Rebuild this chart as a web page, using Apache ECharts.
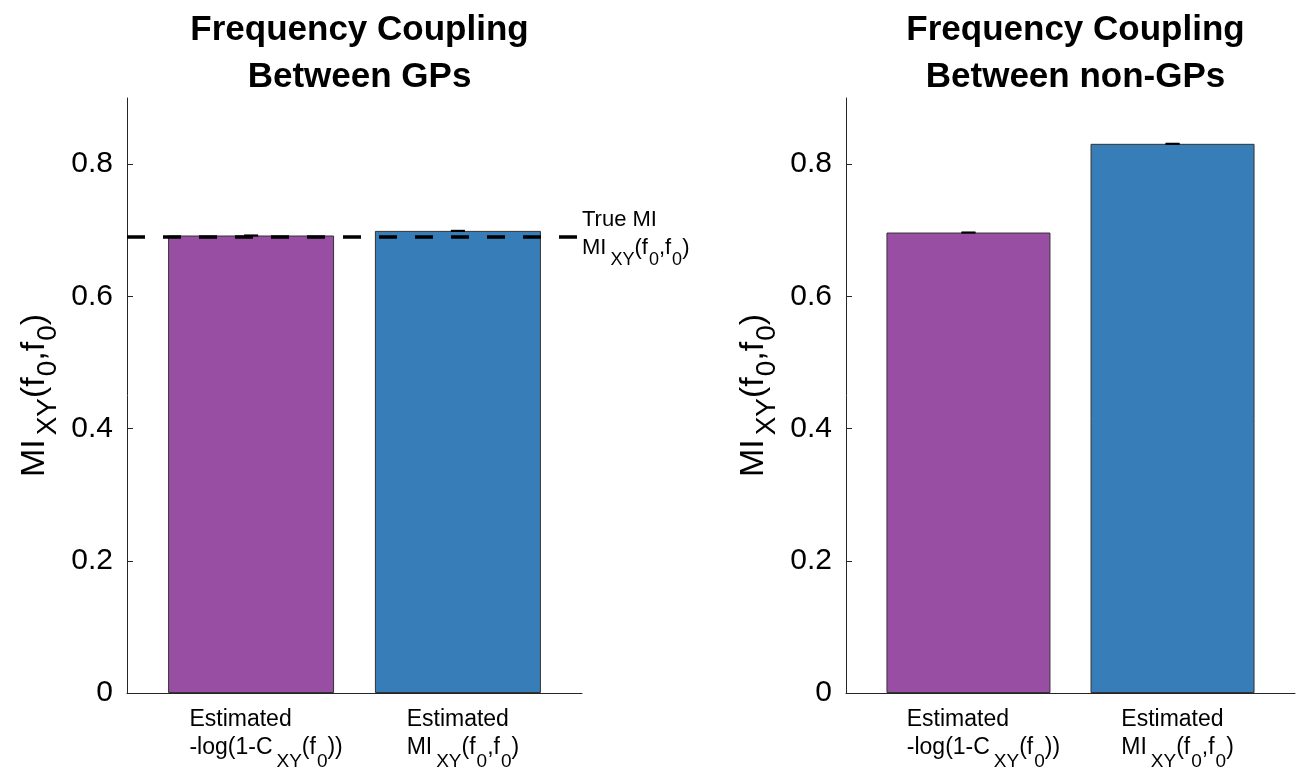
<!DOCTYPE html>
<html>
<head>
<meta charset="utf-8">
<script src="https://cdn.jsdelivr.net/npm/echarts@6/dist/echarts.min.js"></script>
<style>html,body{margin:0;padding:0;background:#fff}#c{width:1304px;height:771px}</style>
</head>
<body>
<div id="c"></div>
<script>
// ---- data ----
const panelTitles = ['Frequency Coupling\nBetween GPs', 'Frequency Coupling\nBetween non-GPs'];
const categoryPositions = [1, 2];
const categoryLabels = [
  '{m|Estimated}\n{m|-log(1-C}{s|XY}{m|(f}{z|0}{m|))}',
  '{m|Estimated}\n{m|MI}{s|XY}{m|(f}{z|0}{m|,f}{z|0}{m|)}'
];
const gpValues = [0.692, 0.699];
const gpErrors = [0.0005, 0.0005];
const nonGpValues = [0.6965, 0.8307];
const nonGpErrors = [0.0005, 0.0005];
const trueMI = 0.6931;
const yTicks = [0, 0.2, 0.4, 0.6, 0.8];
const barColors = ['#984EA3', '#377EB8'];
const yName = '{m|MI}{s|XY}{m|(f}{z|0}{m|,f}{z|0}{m|)}';
const trueMILabel = '{m|True MI}\n{m|MI}{s|XY}{m|(f}{z|0}{m|,f}{z|0}{m|)}';

const FONT = 'Liberation Sans';
const chart = echarts.init(document.getElementById('c'));

const grids = [
  {left: 127, width: 455, top: 98, height: 595},
  {left: 846, width: 449, top: 98, height: 595}
];
// left padding that shifts each category label block (MATLAB-like placement)
const labelPads = [30, 10];

// rich styles: main text, subscript (lowered through top padding)
function richSet(main, sub, drop, lh) {
  return {
    m: {fontSize: main, fontFamily: FONT, color: '#000', lineHeight: lh, align: 'left'},
    s: {fontSize: sub, fontFamily: FONT, color: '#000', lineHeight: 2, align: 'left', padding: [drop, 0, 0, 4]},
    z: {fontSize: sub, fontFamily: FONT, color: '#000', lineHeight: 2, align: 'left', padding: [drop, 0, 0, 1]}
  };
}

function xAxis(i) {
  const rich = richSet(23, 19, 27, 28);
  rich.p0 = {width: labelPads[0], lineHeight: 28, fontSize: 23, align: 'left'};
  rich.p1 = {width: labelPads[1], lineHeight: 28, fontSize: 23, align: 'left'};
  return {
    type: 'value', gridIndex: i, min: 0.4, max: 2.6,
    axisLine: {show: true, lineStyle: {color: '#262626', width: 1}},
    axisTick: {show: false},
    splitLine: {show: false},
    axisLabel: {
      customValues: categoryPositions,
      formatter: v => {
        const k = Math.round(v) - 1;
        return categoryLabels[k].split('\n').map(l => '{p' + k + '| }' + l).join('\n');
      },
      margin: 13,
      rich: rich
    }
  };
}
function yAxis(i) {
  return {
    type: 'value', gridIndex: i, min: 0, max: 0.9,
    axisLine: {show: true, lineStyle: {color: '#262626', width: 1}},
    axisTick: {show: true, inside: true, length: 6, customValues: yTicks, lineStyle: {color: '#262626'}},
    splitLine: {show: false},
    axisLabel: {
      customValues: yTicks,
      formatter: v => (v === 0 ? '0' : v.toFixed(1)),
      fontSize: 30, fontFamily: FONT, color: '#000', margin: 14
    },
    name: yName,
    nameLocation: 'middle',
    nameRotate: 90,
    nameGap: 72,
    nameTextStyle: {rich: richSet(34, 28, 26, 40)}
  };
}

function barData(vals) {
  return vals.map((v, k) => ({value: [categoryPositions[k], v], itemStyle: {color: barColors[k]}}));
}
function errData(vals, errs) {
  return vals.map((v, k) => [categoryPositions[k], v - errs[k], v + errs[k]]);
}
function errSeries(i, vals, errs) {
  return {
    type: 'custom', xAxisIndex: i, yAxisIndex: i, z: 5,
    data: errData(vals, errs),
    renderItem: (params, api) => {
      const x = api.value(0);
      const lo = api.coord([x, api.value(1)]);
      const hi = api.coord([x, api.value(2)]);
      const hw = 7;
      const st = {stroke: '#000', lineWidth: 1.5};
      return {type: 'group', children: [
        {type: 'line', shape: {x1: lo[0], y1: lo[1], x2: hi[0], y2: hi[1]}, style: st},
        {type: 'line', shape: {x1: lo[0] - hw, y1: lo[1], x2: lo[0] + hw, y2: lo[1]}, style: st},
        {type: 'line', shape: {x1: hi[0] - hw, y1: hi[1], x2: hi[0] + hw, y2: hi[1]}, style: st}
      ]};
    }
  };
}

const option = {
  animation: false,
  backgroundColor: '#fff',
  title: panelTitles.map((t, i) => ({
    text: t,
    left: grids[i].left + grids[i].width / 2,
    textAlign: 'center',
    top: 2,
    textStyle: {fontSize: 35, fontWeight: 'bold', fontFamily: FONT, color: '#000', lineHeight: 47}
  })),
  grid: grids,
  xAxis: [xAxis(0), xAxis(1)],
  yAxis: [yAxis(0), yAxis(1)],
  series: [
    {
      type: 'bar', xAxisIndex: 0, yAxisIndex: 0, barWidth: 166,
      data: barData(gpValues),
      itemStyle: {borderColor: '#333', borderWidth: 1},
      markLine: {
        silent: true, symbol: 'none', z: 10,
        lineStyle: {color: '#000', width: 3.5, type: [18, 18]},
        label: {
          position: 'end', distance: 0, offset: [0, -3], formatter: trueMILabel,
          rich: richSet(22, 18, 24, 28)
        },
        data: [{yAxis: trueMI}]
      }
    },
    errSeries(0, gpValues, gpErrors),
    {
      type: 'bar', xAxisIndex: 1, yAxisIndex: 1, barWidth: 164,
      data: barData(nonGpValues),
      itemStyle: {borderColor: '#333', borderWidth: 1}
    },
    errSeries(1, nonGpValues, nonGpErrors)
  ]
};
chart.setOption(option);
</script>
</body>
</html>
